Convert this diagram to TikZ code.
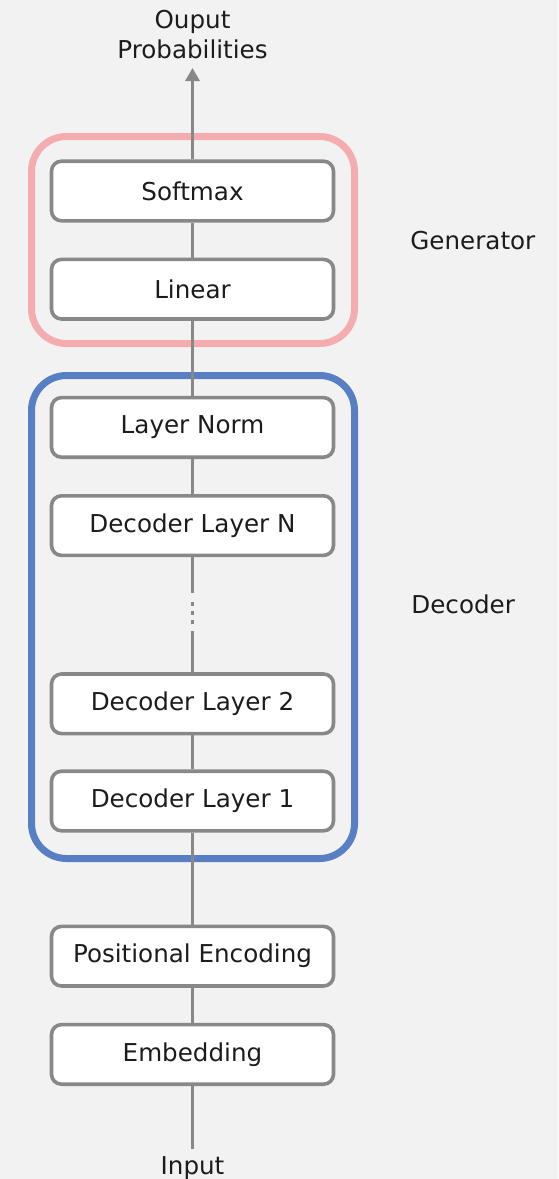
\documentclass[tikz,border=0pt]{standalone}
\usepackage{fontspec}
\setmainfont{DejaVu Sans}
\usetikzlibrary{arrows.meta, positioning}
\definecolor{cBg}{RGB}{242,242,242}
\definecolor{cGen}{RGB}{244,172,175}
\definecolor{cDecd}{RGB}{88,126,196}
\definecolor{cLine}{RGB}{136,136,136}
\definecolor{cText}{RGB}{28,28,28}

\begin{document}
\begin{tikzpicture}[
      x=0.5pt, y=-0.5pt,
      layer/.style={draw=cLine, fill=white, line width=1.8pt, rounded corners=5pt,
                    minimum width=141pt, minimum height=29.8pt, inner sep=0pt,
                    font=\fontsize{12.3}{15}\selectfont, text=cText},
      lbl/.style={font=\fontsize{12.3}{15}\selectfont, text=cText, align=center, inner sep=0pt},
      frame/.style={line width=3.5pt, rounded corners=17.5pt},
      link/.style={draw=cLine, line width=1.6pt},
      ar/.style={link, -{Triangle[width=7pt, length=6.5pt]}}
    ]
    \fill[cBg] (0,0) rectangle (558,1179);
    \useasboundingbox (0,0) rectangle (558,1179);

    % generator and decoder groups
    \draw[frame, draw=cGen] (31.5,136.5) rectangle (354.5,343.5);
    \draw[frame, draw=cDecd] (31.5,375.5) rectangle (354.5,858.5);
    \node[lbl, anchor=west] (gen) at (410,241) {Generator};
    \node[lbl, anchor=west] (dec) at (411,604) {Decoder};

    % layer stack
    \node[layer] (softmax) at (192.5,191) {Softmax};
    \node[layer, below=17.5pt of softmax] (linear) {Linear};
    \node[layer, below=37.5pt of linear] (norm) {Layer Norm};
    \node[layer, below=17.5pt of norm] (dln) {Decoder Layer N};
    \node[layer, below=57.5pt of dln] (dl2) {Decoder Layer 2};
    \node[layer, below=17pt of dl2] (dl1) {Decoder Layer 1};
    \node[layer, below=46pt of dl1] (pe) {Positional Encoding};
    \node[layer, below=17.5pt of pe] (emb) {Embedding};

    \node[lbl, anchor=south] (out) at (192.5,59) {Ouput\\Probabilities};
    \node[lbl, anchor=north] (in) at (192.5,1156) {Input};

    \draw[ar] (softmax) -- ([yshift=-4.5pt]out.south);
    \draw[link] (linear) -- (softmax);
    \draw[link] (norm) -- (linear);
    \draw[link] (dln) -- (norm);
    \draw[link, dash pattern=on 20.5pt off 3.5pt on 2pt off 2.5pt on 2pt off 2.5pt on 2pt off 4.5pt on 25pt]
        (dl2) -- (dln);
    \draw[link] (dl1) -- (dl2);
    \draw[link] (pe) -- (dl1);
    \draw[link] (emb) -- (pe);
    \draw[link] ([yshift=3.5pt]in.north) -- (emb);
  \end{tikzpicture}
\end{document}
